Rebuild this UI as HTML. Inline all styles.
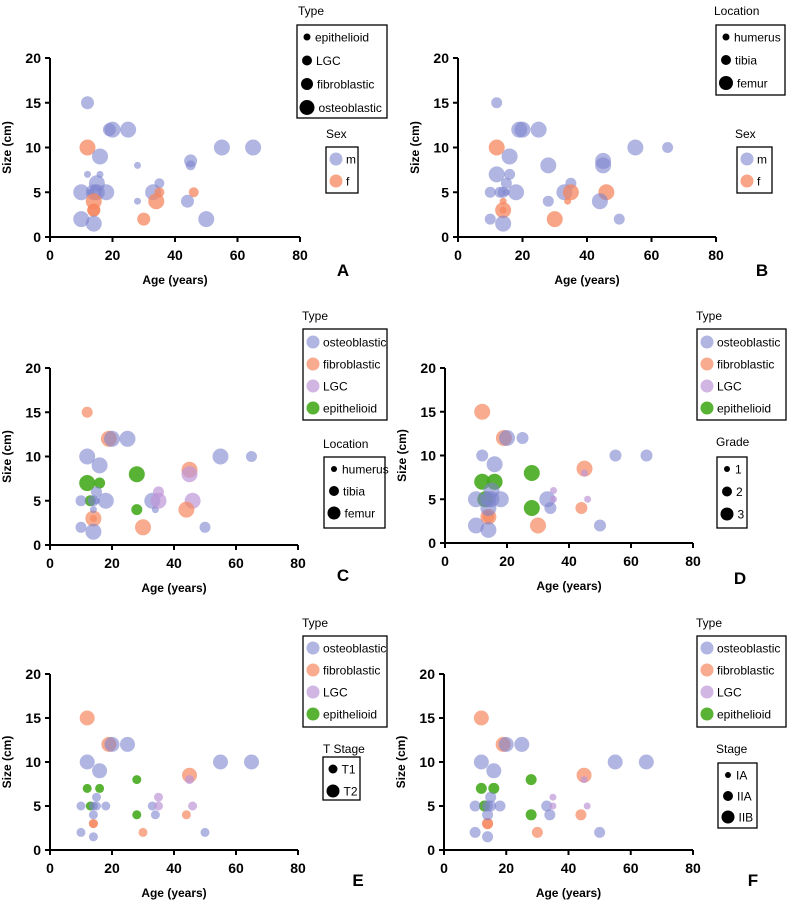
<!DOCTYPE html>
<html><head><meta charset="utf-8"><style>
html,body{margin:0;padding:0;background:#fff;}
svg{display:block;font-family:"Liberation Sans",Arial,sans-serif;}
</style></head><body>
<svg id="fig" width="787" height="905" viewBox="0 0 787 905" xmlns="http://www.w3.org/2000/svg"></svg>
<script>
// ---- Data (one entry per patient) ----
const ages  = [12,19,20,25,12,16,55,65,45,45,12,16,28,28,13,10,15,15,14,18,33,34,35,35,46,44,14,14,30,10,14,50,14];
const sizes = [15,12,12,12,10,9,10,10,8.5,8,7,7,8,4,5,5,6,5,5,5,5,4,6,5,5,4,3,3,2,2,1.5,2,4];
const types = ['fibroblastic','fibroblastic','osteoblastic','osteoblastic','osteoblastic','osteoblastic','osteoblastic','osteoblastic','fibroblastic','LGC',
 'epithelioid','epithelioid','epithelioid','epithelioid','epithelioid','osteoblastic','osteoblastic','osteoblastic','osteoblastic','osteoblastic',
 'osteoblastic','osteoblastic','LGC','LGC','LGC','fibroblastic','fibroblastic','fibroblastic','fibroblastic','osteoblastic','osteoblastic','osteoblastic','osteoblastic'];
const sexes = ['m','m','m','m','f','m','m','m','m','m','m','m','m','m','m','m','m','m','m','m','m','f','m','f','f','m','f','f','f','m','m','m','f'];
const locations = ['tibia','femur','femur','femur','femur','femur','femur','tibia','femur','femur','femur','tibia','femur','tibia','tibia','tibia','tibia','humerus','tibia','femur',
 'femur','humerus','tibia','femur','femur','femur','femur','humerus','femur','tibia','femur','tibia','humerus'];
const grades = [3,3,3,2,2,3,2,2,3,1,3,3,3,3,3,3,3,3,3,3,3,2,1,1,1,2,3,2,3,3,3,2,3];
const tstages = ['T2','T2','T2','T2','T2','T2','T2','T2','T2','T1','T1','T1','T1','T1','T1','T1','T1','T1','T1','T1','T1','T1','T1','T1','T1','T1','T1','T1','T1','T1','T1','T1','T1'];
const stages = ['IIB','IIB','IIB','IIB','IIB','IIB','IIB','IIB','IIB','IA','IIA','IIA','IIA','IIA','IIA','IIA','IIA','IIA','IIA','IIA','IIA','IIA','IA','IA','IA','IIA','IIA','IIA','IIA','IIA','IIA','IIA','IIA'];
const xTicks = [0,20,40,60,80];
const yTicks = [0,5,10,15,20];

const typeColor = {osteoblastic:'rgba(125,132,205,0.6)',fibroblastic:'rgba(245,135,95,0.7)',LGC:'rgba(190,150,215,0.7)',epithelioid:'rgba(70,170,30,0.9)'};
const sexColor = {m:'rgba(125,132,205,0.6)',f:'rgba(245,135,95,0.75)'};
const typeR = {epithelioid:3.5,LGC:5,fibroblastic:6.5,osteoblastic:8};
const locR = {humerus:3.5,tibia:5.5,femur:8};
const gradeR = {1:3.5,2:6,3:8};
const tR = {T1:4.5,T2:7.5};
const stR = {IA:3.5,IIA:5.5,IIB:7.5};

const NS='http://www.w3.org/2000/svg';
const svg=document.getElementById('fig');
function mk(tag,attrs,parent,text){const e=document.createElementNS(NS,tag);for(const k in attrs)e.setAttribute(k,attrs[k]);if(text!==undefined)e.textContent=text;(parent||svg).appendChild(e);return e;}

const panels=[
 {id:'a',label:'A',x0:50,x1:300,yT:58,yB:237,col:i=>sexColor[sexes[i]],rad:i=>typeR[types[i]],lab:[343,276],
  legends:[{title:'Type',tx:298,ty:15,box:[297,25,90,93],kind:'size',items:[['epithelioid',3.5],['LGC',5],['fibroblastic',6],['osteoblastic',7.5]],y0:37,dy:23.5},
           {title:'Sex',tx:326,ty:138,box:[326,147,32,46],kind:'color',items:[['m',sexColor.m],['f',sexColor.f]],y0:159,dy:22}]},
 {id:'b',label:'B',x0:458,x1:716,yT:58,yB:237,col:i=>sexColor[sexes[i]],rad:i=>locR[locations[i]],lab:[762,276],
  legends:[{title:'Location',tx:714,ty:15,box:[716,25,69,70],kind:'size',items:[['humerus',3.5],['tibia',5],['femur',7]],y0:37,dy:23},
           {title:'Sex',tx:735,ty:138,box:[737,147,35,46],kind:'color',items:[['m',sexColor.m],['f',sexColor.f]],y0:159,dy:22}]},
 {id:'c',label:'C',x0:50,x1:298,yT:368,yB:545,col:i=>typeColor[types[i]],rad:i=>locR[locations[i]],lab:[343,581],
  legends:[{title:'Type',tx:302,ty:320,box:[303,329,84,91],kind:'color',items:[['osteoblastic',typeColor.osteoblastic],['fibroblastic',typeColor.fibroblastic],['LGC',typeColor.LGC],['epithelioid',typeColor.epithelioid]],y0:342,dy:22},
           {title:'Location',tx:323,ty:448,box:[324,457,61,71],kind:'size',items:[['humerus',3],['tibia',5],['femur',6.5]],y0:469,dy:22}]},
 {id:'d',label:'D',x0:445,x1:693,yT:368,yB:543,col:i=>typeColor[types[i]],rad:i=>gradeR[grades[i]],lab:[740,584],
  legends:[{title:'Type',tx:696,ty:320,box:[697,329,89,91],kind:'color',items:[['osteoblastic',typeColor.osteoblastic],['fibroblastic',typeColor.fibroblastic],['LGC',typeColor.LGC],['epithelioid',typeColor.epithelioid]],y0:342,dy:22},
           {title:'Grade',tx:716,ty:446,box:[717,457,30,71],kind:'size',items:[['1',3],['2',5],['3',6.5]],y0:469,dy:22.5}]},
 {id:'e',label:'E',x0:50,x1:298,yT:674,yB:850,col:i=>typeColor[types[i]],rad:i=>tR[tstages[i]],lab:[358,886],
  legends:[{title:'Type',tx:302,ty:627,box:[303,636,84,91],kind:'color',items:[['osteoblastic',typeColor.osteoblastic],['fibroblastic',typeColor.fibroblastic],['LGC',typeColor.LGC],['epithelioid',typeColor.epithelioid]],y0:648,dy:22},
           {title:'T Stage',tx:323,ty:753,box:[323,757,37,43],kind:'size',items:[['T1',4.5],['T2',6.5]],y0:769,dy:22}]},
 {id:'f',label:'F',x0:444,x1:693,yT:674,yB:850,col:i=>typeColor[types[i]],rad:i=>stR[stages[i]],lab:[753,886],
  legends:[{title:'Type',tx:696,ty:627,box:[697,636,89,91],kind:'color',items:[['osteoblastic',typeColor.osteoblastic],['fibroblastic',typeColor.fibroblastic],['LGC',typeColor.LGC],['epithelioid',typeColor.epithelioid]],y0:648,dy:22},
           {title:'Stage',tx:716,ty:753,box:[718,763,39,65],kind:'size',items:[['IA',3],['IIA',5],['IIB',6.5]],y0:775,dy:21}]}
];

panels.forEach(p=>{
  const g=mk('g',{});
  
  
  const xs=v=>p.x0+(v-0)/80*(p.x1-p.x0);
  const ys=v=>p.yB-(v-0)/20*(p.yB-p.yT);
  // points
  const pts=mk('g',{},g);
  
  
  ages.forEach((a,i)=>{
    const c=mk('circle',{cx:xs(a),cy:ys(sizes[i]),r:p.rad(i),fill:p.col(i)},pts);
    
    
  });
  // axes
  const ax=mk('path',{d:`M${p.x0},${p.yT} V${p.yB} H${p.x1}`,stroke:'#000','stroke-width':2,fill:'none'},g);
  
  
  yTicks.forEach(t=>{
    mk('line',{x1:p.x0-5,x2:p.x0,y1:ys(t),y2:ys(t),stroke:'#000','stroke-width':2},g);
    const tl=mk('text',{x:p.x0-9,y:ys(t)+5,'text-anchor':'end','font-size':14,'font-weight':'bold'},g,String(t));
    
    
  });
  xTicks.forEach(t=>{
    mk('line',{x1:xs(t),x2:xs(t),y1:p.yB,y2:p.yB+5,stroke:'#000','stroke-width':2},g);
    const tl=mk('text',{x:xs(t),y:p.yB+23,'text-anchor':'middle','font-size':14,'font-weight':'bold'},g,String(t));
    
    
  });
  const xt=mk('text',{x:(p.x0+p.x1)/2,y:p.yB+47,'text-anchor':'middle','font-size':12,'font-weight':'bold'},g,'Age (years)');
  
  
  const yx=p.x0-39, yy=(p.yT+p.yB)/2;
  const yt=mk('text',{x:yx,y:yy,'text-anchor':'middle','font-size':12,'font-weight':'bold',transform:`rotate(-90 ${yx} ${yy})`},g,'Size (cm)');
  
  
  const pl=mk('text',{x:p.lab[0],y:p.lab[1],'text-anchor':'middle','font-size':17,'font-weight':'bold'},g,p.label);
  
  
  // legends
  p.legends.forEach(L=>{
    const lg=mk('g',{},g);
    
    
    mk('text',{x:L.tx,y:L.ty,'font-size':12},lg,L.title);
    mk('rect',{x:L.box[0],y:L.box[1],width:L.box[2],height:L.box[3],fill:'none',stroke:'#000','stroke-width':1.3},lg);
    L.items.forEach((it,k)=>{
      const cy=L.y0+k*L.dy, cx=L.box[0]+10;
      const e=mk('g',{},lg);
      
      
      if(L.kind==='size'){mk('circle',{cx:cx,cy:cy,r:it[1],fill:'#000'},e);}
      else{mk('circle',{cx:cx,cy:cy,r:6.5,fill:it[1]},e);}
      mk('text',{x:cx+ (L.kind==='size'?Math.max(8,it[1]+4):10),y:cy+4.5,'font-size':12},e,it[0]);
    });
  });
});
</script>
</body></html>
